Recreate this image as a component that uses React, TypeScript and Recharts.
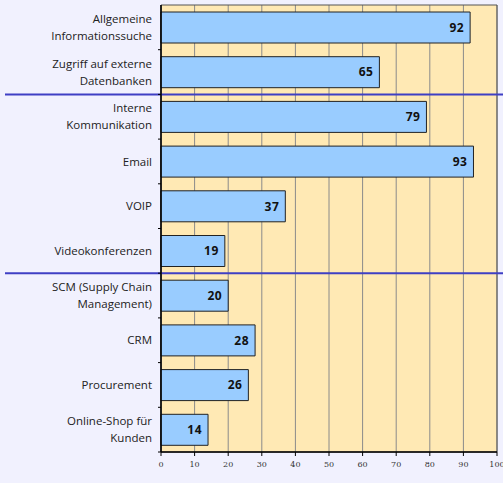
import React from "react";
import { BarChart, Bar, XAxis, YAxis, CartesianGrid, LabelList, ReferenceLine, ReferenceArea } from "recharts";

const categories = [
  "Allgemeine\nInformationssuche",
  "Zugriff auf externe\nDatenbanken",
  "Interne\nKommunikation",
  "Email",
  "VOIP",
  "Videokonferenzen",
  "SCM (Supply Chain\nManagement)",
  "CRM",
  "Procurement",
  "Online-Shop für\nKunden",
];
const values = [92, 65, 79, 93, 37, 19, 20, 28, 26, 14];
const xTicks = [0, 10, 20, 30, 40, 50, 60, 70, 80, 90, 100];
// separator drawn above these categories
const groupStarts = [categories[2], categories[6]];

const data = categories.map((c, i) => ({ name: c, value: values[i] }));

const W = 503;
const H = 483;
const M = { top: 5, right: 6, bottom: 6, left: 0 };
const XH = 25;
const BAND = (H - M.top - M.bottom - XH) / categories.length;

const FONT = "'Open Sans', 'DejaVu Sans', sans-serif";

const CategoryTick = (props: any) => {
  const { x, y, payload } = props;
  const lines: string[] = String(payload.value).split("\n");
  const lh = 17;
  const start = -((lines.length - 1) * lh) / 2;
  const ax = 161;
  return (
    <g>
      <line x1={ax - 3} x2={ax} y1={y + BAND / 2} y2={y + BAND / 2} stroke="#000" strokeWidth={1} />
      {lines.map((l, i) => (
        <text
          key={i}
          x={ax - 9}
          y={y + start + i * lh}
          dy="0.36em"
          textAnchor="end"
          fontFamily={FONT}
          fontSize={11.5}
          fill="#222"
        >
          {l}
        </text>
      ))}
    </g>
  );
};

const SepLine = (props: any) => {
  const y = props.y1 - BAND / 2;
  return <line x1={5} x2={503} y1={y} y2={y} stroke="#3F3FC4" strokeWidth={2} />;
};

export default function App() {
  return (
    <div style={{ position: "absolute", left: 0, top: 0, width: W, height: H, background: "#F1F1FE" }}>
      <BarChart width={W} height={H} data={data} layout="vertical" margin={M} barSize={31}>
        <CartesianGrid horizontal={false} stroke="#8A8A8A" fill="#FFE9B4" fillOpacity={1} />
        <XAxis
          type="number"
          domain={[0, 100]}
          ticks={xTicks}
          interval={0}
          axisLine={{ stroke: "#000", strokeWidth: 1.5 }}
          tickLine={{ stroke: "#000" }}
          tickSize={4}
          height={XH}
          tick={{ fontFamily: "'DejaVu Serif', 'Liberation Serif', serif", fontSize: 8, fill: "#333", dy: 3 }}
        />
        <YAxis
          type="category"
          dataKey="name"
          width={161}
          axisLine={{ stroke: "#000", strokeWidth: 1.5 }}
          tickLine={false}
          interval={0}
          tick={<CategoryTick />}
        />
        <ReferenceArea x1={0} x2={100} fill="none" stroke="#555" strokeWidth={1} ifOverflow="visible" />
        <Bar dataKey="value" fill="#99CCFF" stroke="#222" strokeWidth={1} isAnimationActive={false}>
          <LabelList
            dataKey="value"
            position="insideRight"
            offset={6}
            style={{ fontFamily: FONT, fontSize: 12, fontWeight: 700, fill: "#111", letterSpacing: 0.5 }}
          />
        </Bar>
        {groupStarts.map((s) => (
          <ReferenceLine key={s} y={s} ifOverflow="visible" shape={<SepLine />} />
        ))}
      </BarChart>
    </div>
  );
}
